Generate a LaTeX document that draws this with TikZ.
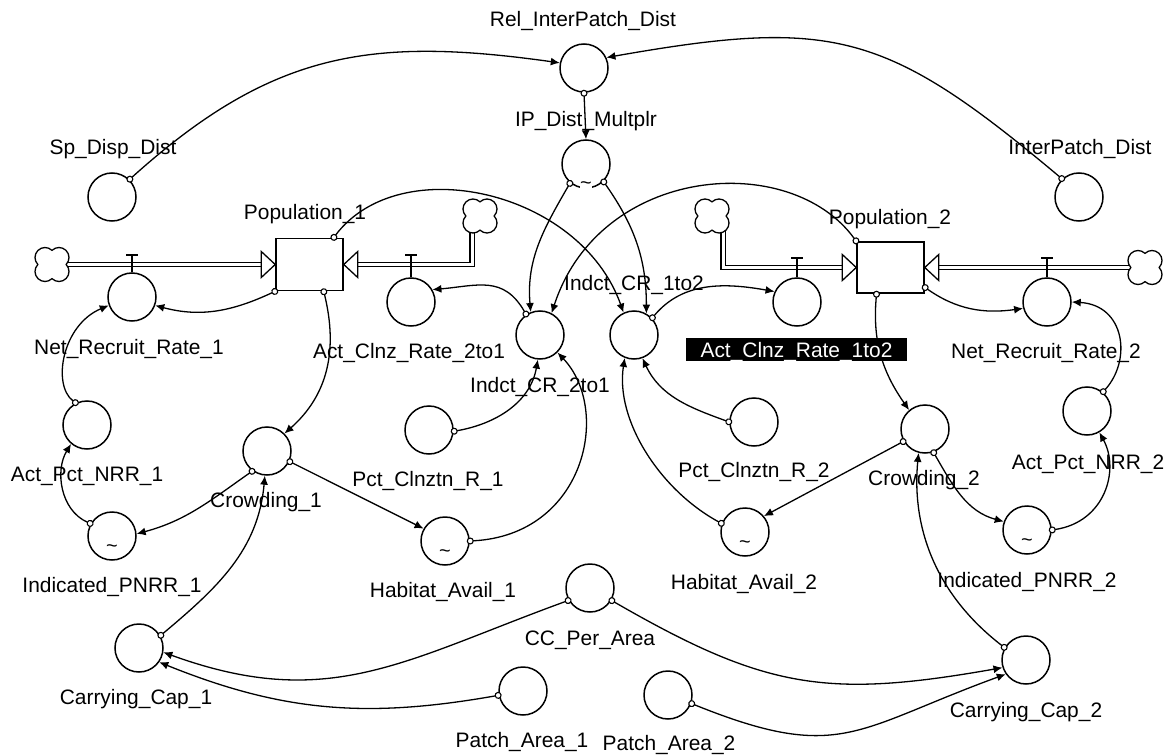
\documentclass[tikz,border=0pt]{standalone}
\usepackage{fontspec}
\setmainfont{Liberation Sans}
\usetikzlibrary{arrows.meta}
\begin{document}
\begin{tikzpicture}[x=1bp,y=1bp,
  aux/.style={circle,draw,line width=1.5bp,minimum size=48bp,inner sep=0pt,fill=white},
  stockbox/.style={rectangle,draw,line width=1.5bp,minimum width=67bp,inner sep=0pt,fill=white},
  cloudnode/.style={circle,minimum size=34bp,inner sep=0pt},
  lbl/.style={font=\fontsize{21}{24}\selectfont,inner sep=0pt,text height=15bp,text depth=0bp},
  tld/.style={font=\fontsize{20}{22}\selectfont,inner sep=0.5bp},
  conn/.style={line width=1.3bp,shorten <=-3bp,{Circle[open,fill=white,length=7bp,width=7bp,line width=1.1bp]}-{Latex[length=9bp,width=8bp]}},
  pipe/.style={double,double distance=3bp,line width=1.3bp},
  valvestem/.style={line width=1.8bp},
  pipetip/.style={line width=1.3bp,fill=white,line join=miter},
  cloudpic/.pic={\draw[line width=1.3bp,fill=white] (14.14,0) arc[start angle=-44.4,end angle=134.4,radius=10] arc[start angle=45.6,end angle=224.4,radius=10] arc[start angle=135.6,end angle=314.4,radius=10] arc[start angle=225.6,end angle=404.4,radius=10] -- cycle;}
]
\useasboundingbox (0,0) rectangle (1168,-755);
\fill[white] (0,0) rectangle (1168,-755);

% clouds (positions)
\node[cloudnode] (cL) at (52,-264.5) {};
\node[cloudnode] (c21) at (480,-216) {};
\node[cloudnode] (c12) at (712,-216) {};
\node[cloudnode] (cR) at (1145,-267.5) {};

% stocks (positions only first)
\node[stockbox,minimum height=52bp,draw=none,fill=none] (pop1) at (309.5,-264.5) {};
\node[stockbox,minimum height=51bp,draw=none,fill=none] (pop2) at (890.5,-267.5) {};

% pipes
\draw[pipe] ([xshift=-5bp]cL.east) -- ([xshift=-14bp]pop1.west);
\draw[pipe] ([xshift=-8bp,yshift=4bp]c21.south) |- ([xshift=14bp]pop1.east);
\draw[pipe] ([xshift=11bp,yshift=4bp]c12.south) |- ([xshift=-14bp]pop2.west);
\draw[pipe] ([xshift=5bp]cR.west) -- ([xshift=14bp]pop2.east);

\pic at (cL) {cloudpic};
\pic at (c21) {cloudpic};
\pic at (c12) {cloudpic};
\pic at (cR) {cloudpic};

\draw[pipetip] (pop1.west) -- ++(-14,13) -- ++(0,-26) -- cycle;
\draw[pipetip] (pop1.east) -- ++(14,13) -- ++(0,-26) -- cycle;
\draw[pipetip] (pop2.west) -- ++(-14,13) -- ++(0,-26) -- cycle;
\draw[pipetip] (pop2.east) -- ++(14,13) -- ++(0,-26) -- cycle;

\node[stockbox,minimum height=52bp] at (pop1) {};
\node[stockbox,minimum height=51bp] at (pop2) {};

% converters
\node[aux] (rel) at (584,-68) {};
\node[aux] (ipd) at (586,-164) {};
\node[aux] (spd) at (112,-197) {};
\node[aux] (ipdist) at (1079,-197) {};
\node[aux] (nrr1) at (132,-297) {};
\node[aux] (acr21) at (411,-302) {};
\node[aux] (acr12) at (797,-302) {};
\node[aux] (nrr2) at (1047,-302) {};
\node[aux] (icr21) at (540,-335) {};
\node[aux] (icr12) at (634,-335) {};
\node[aux] (pct1) at (429,-430) {};
\node[aux] (pct2) at (754,-422) {};
\node[aux] (crowd1) at (267,-451) {};
\node[aux] (crowd2) at (925,-429) {};
\node[aux] (apn1) at (87,-425) {};
\node[aux] (apn2) at (1087,-411) {};
\node[aux] (ipn1) at (112,-536) {};
\node[aux] (ipn2) at (1027,-530) {};
\node[aux] (hab1) at (445,-541) {};
\node[aux] (hab2) at (745,-532) {};
\node[aux] (ccpa) at (590,-588) {};
\node[aux] (cc1) at (139,-648) {};
\node[aux] (cc2) at (1026,-660) {};
\node[aux] (pa1) at (523,-691) {};
\node[aux] (pa2) at (668,-695) {};

% valves
\draw[valvestem] (nrr1.north) -- ++(0,17.5) ++(-6,0) -- ++(12,0);
\draw[valvestem] (acr21.north) -- ++(0,22.5) ++(-6,0) -- ++(12,0);
\draw[valvestem] (acr12.north) -- ++(0,19.5) ++(-6,0) -- ++(12,0);
\draw[valvestem] (nrr2.north) -- ++(0,19.5) ++(-6,0) -- ++(12,0);

% tildes
\node[tld,fill=white,inner sep=0pt] (tipd) at (586,-186) {\textasciitilde};
\node[tld] (tipn1) at (112,-549) {\textasciitilde};
\node[tld] (thab1) at (445,-554) {\textasciitilde};
\node[tld] (thab2) at (745,-545) {\textasciitilde};
\node[tld] (tipn2) at (1027,-543) {\textasciitilde};

% connectors
\draw[conn] (spd.45) to[out=42,in=172,looseness=1.1] (rel.168);
\draw[conn] (ipdist.133) to[out=140,in=10,looseness=1.25] (rel.25);
\draw[conn] (rel.-90) -- (ipd.90);
\draw[conn] (ipd.-130) to[out=-120,in=95] (icr21.112);
\draw[conn] (ipd.-45) to[out=-55,in=90] (icr12.60);
\draw[conn] (pop1.48) .. controls (400,-150) and (580,-190) .. (icr12.115);
\draw[conn] (pop2.north west) .. controls (790,-150) and (600,-165) .. (icr21.62);
\draw[conn] (icr21.124) to[out=120,in=5,looseness=1.2] (acr21.30);
\draw[conn] (icr12.43) to[out=50,in=170] (acr12.155);
\draw[conn] (pct1.-3) to[out=10,in=-100] (icr21.-95);
\draw[conn] (hab1.0) .. controls (585,-535) and (612,-410) .. (icr21.-45);
\draw[conn] (pct2.180) to[out=160,in=-65] (icr12.-70);
\draw[conn] (hab2.160) .. controls (660,-490) and (615,-420) .. (icr12.-112);
\draw[conn] (pop1.south west) to[out=205,in=-15] (nrr1.-20);
\draw[conn] (apn1.117) .. controls (52,-385) and (62,-325) .. (nrr1.200);
\draw[conn] (pop1.-62) .. controls (338,-350) and (328,-395) .. (crowd1.45);
\draw[conn] (crowd1.234) to[out=215,in=15] (ipn1.5);
\draw[conn] (ipn1.150) .. controls (60,-510) and (55,-470) .. (apn1.230);
\draw[conn] (crowd1.-25) -- (hab1.150);
\draw[conn] (cc1.30) to[out=40,in=-95] (crowd1.-95);
\draw[conn] (ccpa.210) to[out=200,in=-20,looseness=1.1] (cc1.-10);
\draw[conn] (pa1.190) to[out=190,in=-22] (cc1.-35);
\draw[conn] (ccpa.-30) to[out=-30,in=190,looseness=1.15] (cc2.198);
\draw[conn] (pa2.-20) to[out=-22,in=200,looseness=1.3] (cc2.215);
\draw[conn] (cc2.150) .. controls (930,-590) and (912,-520) .. (crowd2.-105);
\draw[conn] (crowd2.210) -- (hab2.40);
\draw[conn] (crowd2.-70) to[out=-60,in=165] (ipn2.160);
\draw[conn] (ipn2.0) .. controls (1105,-522) and (1120,-470) .. (apn2.-60);
\draw[conn] (apn2.50) .. controls (1132,-360) and (1125,-305) .. (nrr2.0);
\draw[conn] (pop2.-30) to[out=-35,in=188] (nrr2.195);
\draw[conn] (pop2.-118) to[out=-95,in=125] (crowd2.130);

% labels
\node[lbl] (lrel) at (583,-19) {Rel\_InterPatch\_Dist};
\node[lbl] (lipd) at (586,-119) {IP\_Dist\_Multplr};
\node[lbl] (lspd) at (113,-147) {Sp\_Disp\_Dist};
\node[lbl] (lipdist) at (1080,-147) {InterPatch\_Dist};
\node[lbl] (lpop1) at (305,-212) {Population\_1};
\node[lbl] (lpop2) at (890,-217) {Population\_2};
\node[lbl] (lnrr1) at (129,-347) {Net\_Recruit\_Rate\_1};
\node[lbl] (lacr21) at (409,-351) {Act\_Clnz\_Rate\_2to1};
\node[lbl] (licr12) at (634,-283) {Indct\_CR\_1to2};
\node[lbl,fill=black,text=white,minimum width=221bp,minimum height=23bp] (lacr12) at (796.5,-349.5) {Act\_Clnz\_Rate\_1to2};
\node[lbl] (lnrr2) at (1046,-351) {Net\_Recruit\_Rate\_2};
\node[lbl] (licr21) at (540,-385) {Indct\_CR\_2to1};
\node[lbl] (lapn1) at (87,-474) {Act\_Pct\_NRR\_1};
\node[lbl] (lpct1) at (428,-479) {Pct\_Clnztn\_R\_1};
\node[lbl] (lcrowd1) at (266,-500) {Crowding\_1};
\node[lbl] (lpct2) at (754,-470) {Pct\_Clnztn\_R\_2};
\node[lbl] (lcrowd2) at (924,-478) {Crowding\_2};
\node[lbl] (lapn2) at (1088,-462) {Act\_Pct\_NRR\_2};
\node[lbl] (lipn1) at (112,-585) {Indicated\_PNRR\_1};
\node[lbl] (lhab1) at (443,-590) {Habitat\_Avail\_1};
\node[lbl] (lhab2) at (744,-582) {Habitat\_Avail\_2};
\node[lbl] (lipn2) at (1027,-580) {Indicated\_PNRR\_2};
\node[lbl] (lccpa) at (590,-638) {CC\_Per\_Area};
\node[lbl] (lcc1) at (136,-697) {Carrying\_Cap\_1};
\node[lbl] (lcc2) at (1026,-710) {Carrying\_Cap\_2};
\node[lbl] (lpa1) at (522,-740) {Patch\_Area\_1};
\node[lbl] (lpa2) at (669,-743) {Patch\_Area\_2};
\end{tikzpicture}
\end{document}
